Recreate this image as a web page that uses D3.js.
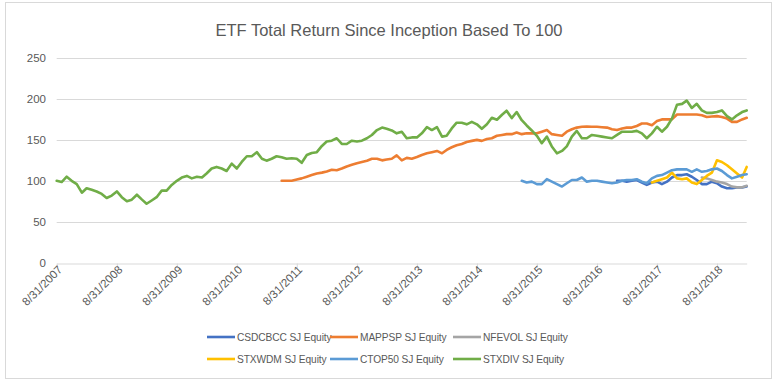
<!DOCTYPE html>
<html>
<head>
<meta charset="utf-8">
<script src="https://cdn.jsdelivr.net/npm/d3@7"></script>
<style>
  html, body { margin: 0; padding: 0; background: #fff; }
  svg { display: block; font-family: "Liberation Sans", Arial, sans-serif; }
</style>
</head>
<body>
<svg width="779" height="385"></svg>
<script>
// ETF total return, monthly since Aug 2007, rebased to 100

const chartTitle = "ETF Total Return Since Inception Based To 100";
const seriesNames = ["CSDCBCC SJ Equity", "MAPPSP SJ Equity", "NFEVOL SJ Equity",
                     "STXWDM SJ Equity", "CTOP50 SJ Equity", "STXDIV SJ Equity"];
const seriesColors = ["#4472C4", "#ED7D31", "#A5A5A5", "#FFC000", "#5B9BD5", "#70AD47"];
// first month of each series, counted in months from 8/31/2007
const seriesStart = [112, 45, 129, 119, 93, 0];

const csdcbcc = [100, 100, 99, 100, 101, 98, 95, 98, 99, 96, 99, 104, 107, 107, 108, 105,
                 101, 96, 96, 99, 97, 93, 91, 91, 92, 92, 93];
const mappsp = [100, 100, 100, 101.5, 103, 105, 107, 109, 110, 111.5, 113.5, 113, 115, 117.5,
                119.5, 121.5, 123, 124.5, 127, 127, 125, 126, 127, 131, 125, 128, 127, 129,
                131.5, 133.6, 135, 136.5, 133.6, 137.7, 141, 143.4, 145, 147.5, 148.8, 150,
                148.8, 151, 152, 155, 156, 157, 157, 159, 157, 158, 158, 158, 160, 162, 157,
                156, 155, 160, 163, 165, 166, 166.4, 166, 166, 165.5, 165, 163, 162, 164, 165,
                165, 167, 170, 170, 168, 173, 175, 175, 175, 181, 181, 181, 181, 181, 180, 178,
                178.5, 179, 178, 176, 172, 172, 175, 177];
const nfevol = [104, 103, 101, 99, 98, 96, 93, 92, 92, 94];
const stxwdm = [98, 100, 102, 104, 110, 103, 102, 103, 98, 96, 101, 106, 110, 125, 123, 119,
                114, 109, 104, 117];
const ctop50 = [100, 98, 99, 96, 96, 102, 99, 96, 93, 97, 101, 101, 104, 99, 100, 100, 99, 98,
                97, 98, 100, 101, 101, 102, 99, 97, 103, 106, 107, 110, 113, 114, 114, 114, 111,
                114, 111, 112, 114, 115, 112, 107, 103, 105, 107, 108];
const stxdiv = [100, 98.5, 105, 100, 96, 85.5, 91, 89, 87, 84, 79, 82, 87, 80, 75, 77, 83, 77,
                72, 76, 80, 88, 88, 95, 100, 104, 106, 103, 105, 104, 109, 115, 117, 115, 112,
                121, 115, 123, 130, 130, 135, 127, 124.6, 127, 130, 128.7, 127, 127.5, 127, 122,
                131.5, 134, 135, 142.6, 148, 149, 152, 145, 145, 149, 148, 149, 152, 156, 162,
                165, 163.5, 161.5, 158, 160, 152, 153, 153, 158, 165.5, 162, 165.5, 154, 155,
                164, 171, 171, 169, 172, 169, 163.5, 169, 177, 174.6, 180.7, 185.6, 176.6, 184,
                174, 167.6, 161.5, 155, 146, 154, 142, 133.6, 136.5, 142, 154, 161, 152, 152,
                156, 155, 154, 153, 152, 156, 160, 160, 160, 161, 158, 152, 158, 166, 160, 166,
                176, 193, 194, 198, 189, 194, 186, 183, 183, 184, 186, 179, 175, 180, 184, 186];
const seriesValues = [csdcbcc, mappsp, nfevol, stxwdm, ctop50, stxdiv];

const yTicks = [0, 50, 100, 150, 200, 250];
const xTickLabels = ["8/31/2007", "8/31/2008", "8/31/2009", "8/31/2010", "8/31/2011", "8/31/2012",
                     "8/31/2013", "8/31/2014", "8/31/2015", "8/31/2016", "8/31/2017", "8/31/2018"];

const monthEnd = i => new Date(2007, 8 + i, 0);

const svg = d3.select("svg");
const plot = { left: 56.7, right: 746.7, top: 58, bottom: 262.7 };

const x = d3.scaleTime()
    .domain([monthEnd(0), monthEnd(138)])
    .range([plot.left, plot.right]);
const y = d3.scaleLinear()
    .domain([0, 250])
    .range([plot.bottom, plot.top]);

// outer frame
svg.append("rect")
    .attr("x", 5.5).attr("y", 2.5)
    .attr("width", 766).attr("height", 376)
    .attr("fill", "#fff")
    .attr("stroke", "#d9d9d9");

svg.append("text")
    .attr("x", 389).attr("y", 36)
    .attr("text-anchor", "middle")
    .attr("fill", "#595959")
    .style("font-size", "16.5px")
    .text(chartTitle);

// gridlines + y labels
const grid = svg.append("g");
grid.selectAll("line")
    .data(yTicks.filter(d => d > 0))
    .join("line")
    .attr("x1", plot.left).attr("x2", plot.right)
    .attr("y1", d => Math.round(y(d)) + 0.5).attr("y2", d => Math.round(y(d)) + 0.5)
    .attr("stroke", "#d9d9d9");

grid.selectAll("text")
    .data(yTicks)
    .join("text")
    .attr("x", 46)
    .attr("y", d => y(d))
    .attr("dy", "0.35em")
    .attr("text-anchor", "end")
    .attr("fill", "#595959")
    .style("font-size", "11.5px")
    .text(d => d);

// x axis
const xTickDates = xTickLabels.map((d, i) => new Date(2007 + i, 7, 31));
const xAxis = svg.append("g")
    .attr("transform", `translate(0,${Math.round(plot.bottom) + 0.5})`)
    .call(d3.axisBottom(x)
        .tickValues(xTickDates)
        .tickFormat((d, i) => xTickLabels[i])
        .tickSizeInner(5)
        .tickSizeOuter(0));
xAxis.select(".domain").attr("stroke", "#d9d9d9");
xAxis.selectAll(".tick line").attr("stroke", "#d9d9d9");
xAxis.selectAll(".tick text")
    .attr("fill", "#595959")
    .style("font-size", "11.5px")
    .style("font-family", "Liberation Sans, Arial, sans-serif")
    .attr("text-anchor", "end")
    .attr("transform", "translate(3,4) rotate(-45)")
    .attr("x", 0).attr("y", 0).attr("dy", "0.35em");

// series lines
const line = d3.line()
    .x(d => x(d.date))
    .y(d => y(d.value));

const series = seriesNames.map((name, k) => ({
    name,
    color: seriesColors[k],
    points: seriesValues[k].map((v, i) => ({ date: monthEnd(seriesStart[k] + i), value: v }))
}));

svg.append("g")
    .selectAll("path")
    .data(series)
    .join("path")
    .attr("d", d => line(d.points))
    .attr("fill", "none")
    .attr("stroke", d => d.color)
    .attr("stroke-width", 2.6)
    .attr("stroke-linejoin", "round")
    .attr("stroke-linecap", "round");

// legend, two rows of three
const legendX = [207, 330, 453];
const legendY = [337, 359];
const legend = svg.append("g")
    .selectAll("g")
    .data(series)
    .join("g")
    .attr("transform", (d, i) => `translate(${legendX[i % 3]},${legendY[Math.floor(i / 3)]})`);
legend.append("line")
    .attr("x1", 0).attr("x2", 28)
    .attr("stroke", d => d.color)
    .attr("stroke-width", 2.6);
legend.append("text")
    .attr("x", 30)
    .attr("dy", "0.35em")
    .attr("fill", "#595959")
    .style("font-size", "10.2px")
    .style("letter-spacing", "-0.1px")
    .text(d => d.name);
</script>
</body>
</html>
